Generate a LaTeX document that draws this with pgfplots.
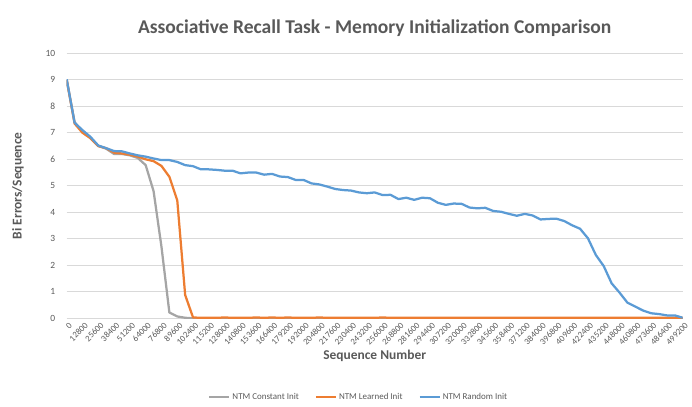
\documentclass[border=0pt]{standalone}
\usepackage{pgfplots}
\usepackage{pgfplotstable}
\pgfplotsset{compat=1.18}
\usepackage{fontspec}
\setmainfont{Carlito}
\definecolor{cgray}{HTML}{A5A5A5}
\definecolor{corange}{HTML}{ED7D31}
\definecolor{cblue}{HTML}{5B9BD5}
\definecolor{ctext}{HTML}{595959}
\definecolor{cgrid}{HTML}{D9D9D9}
\pgfplotstableread{
x gray orange blue
0 9.00 9.00 9.02
6400 7.40 7.35 7.38
12800 7.05 7.00 7.10
19200 6.80 6.80 6.85
25600 6.50 6.50 6.52
32000 6.40 6.42 6.42
38400 6.20 6.25 6.31
44800 6.20 6.22 6.30
51200 6.15 6.17 6.22
57600 6.05 6.10 6.15
64000 5.78 6.00 6.10
70400 4.80 5.93 6.03
76800 2.70 5.75 5.97
83200 0.22 5.34 5.97
89600 0.07 4.45 5.90
96000 0.02 0.88 5.78
102400 0.00 0.03 5.74
108800 0.00 0.02 5.62
115200 0.00 0.02 5.62
121600 0.00 0.02 5.60
128000 0.00 0.03 5.57
134400 0.00 0.02 5.57
140800 0.00 0.02 5.47
147200 0.00 0.02 5.50
153600 0.00 0.03 5.50
160000 0.00 0.02 5.42
166400 0.00 0.03 5.45
172800 0.00 0.02 5.35
179200 0.00 0.03 5.33
185600 0.00 0.02 5.22
192000 0.00 0.02 5.22
198400 0.00 0.02 5.09
204800 0.00 0.03 5.05
211200 0.00 0.02 4.97
217600 0.00 0.02 4.88
224000 0.00 0.02 4.84
230400 0.00 0.02 4.82
236800 0.00 0.02 4.75
243200 0.00 0.02 4.72
249600 0.00 0.02 4.75
256000 0.00 0.03 4.65
262400 0.00 0.02 4.66
268800 0.00 0.02 4.50
275200 0.00 0.02 4.55
281600 0.00 0.02 4.47
288000 0.00 0.02 4.55
294400 0.00 0.02 4.53
300800 0.00 0.02 4.36
307200 0.00 0.02 4.28
313600 0.00 0.02 4.33
320000 0.00 0.02 4.32
326400 0.00 0.02 4.18
332800 0.00 0.02 4.15
339200 0.00 0.02 4.17
345600 0.00 0.02 4.05
352000 0.00 0.02 4.02
358400 0.00 0.02 3.94
364800 0.00 0.02 3.87
371200 0.00 0.02 3.94
377600 0.00 0.02 3.88
384000 0.00 0.02 3.73
390400 0.00 0.02 3.75
396800 0.00 0.02 3.76
403200 0.00 0.02 3.67
409600 0.00 0.02 3.51
416000 0.00 0.02 3.38
422400 0.00 0.02 3.02
428800 0.00 0.02 2.39
435200 0.00 0.02 1.97
441600 0.00 0.02 1.32
448000 0.00 0.02 0.97
454400 0.00 0.02 0.59
460800 0.00 0.02 0.44
467200 0.00 0.02 0.29
473600 0.00 0.02 0.19
480000 0.00 0.02 0.16
486400 0.00 0.02 0.11
492800 0.00 0.02 0.11
499200 0.00 0.02 0.02
}\datatable
\begin{document}
\begin{tikzpicture}
\useasboundingbox (-66.7bp,-88.7bp) rectangle (625.3bp,318.3bp);
\begin{axis}[
  at={(0,0)}, anchor=south west,
  scale only axis, width=616bp, height=265bp,
  xmin=0, xmax=499200, ymin=0, ymax=10,
  axis line style={draw=none},
  major tick length=0pt,
  scaled x ticks=false, scaled y ticks=false,
  ymajorgrids, grid style={cgrid, line width=0.75bp},
  xtick={0,12800,25600,38400,51200,64000,76800,89600,102400,115200,128000,140800,153600,166400,179200,192000,204800,217600,230400,243200,256000,268800,281600,294400,307200,320000,332800,345600,358400,371200,384000,396800,409600,422400,435200,448000,460800,473600,486400,499200},
  xticklabels={0,12800,25600,38400,51200,64000,76800,89600,102400,115200,128000,140800,153600,166400,179200,192000,204800,217600,230400,243200,256000,268800,281600,294400,307200,320000,332800,345600,358400,371200,384000,396800,409600,422400,435200,448000,460800,473600,486400,499200},
  ytick={0,1,2,3,4,5,6,7,8,9,10},
  yticklabels={0,1,2,3,4,5,6,7,8,9,10},
  xticklabel style={rotate=45, anchor=east, font=\fontsize{8.8}{8.8}\selectfont, text=ctext, yshift=-7bp, xshift=2bp},
  yticklabel style={font=\fontsize{9.5}{9.5}\selectfont, text=ctext, xshift=-8bp},
  title={Associative Recall Task - Memory Initialization Comparison},
  title style={at={(axis description cs:0.5,1.107)}, anchor=center, yshift=-9pt, font=\bfseries\fontsize{19.6}{19.6}\selectfont, text=ctext},
  xlabel={Sequence Number},
  xlabel style={at={(axis description cs:0.5,-0.142)}, anchor=center, font=\bfseries\fontsize{13.5}{13.5}\selectfont, text=ctext},
  ylabel={Bi Errors/Sequence},
  ylabel style={at={(axis description cs:-0.079,0.5)}, anchor=center, font=\bfseries\fontsize{13.5}{13.5}\selectfont, text=ctext},
  legend style={at={(axis description cs:0.474,-0.297)}, anchor=center, draw=none, fill=none,
    legend columns=3, font=\fontsize{9}{9}\selectfont, text=ctext,
    /tikz/every even column/.append style={column sep=14bp}},
  legend cell align=left,
  legend image code/.code={\draw[#1] (0bp,0bp) -- (20bp,0bp);},
  every axis plot/.append style={line width=2.25bp, line join=round, mark=none},
]
\addplot[cgray] table[x=x, y=gray] {\datatable};
\addplot[corange] table[x=x, y=orange] {\datatable};
\addplot[cblue] table[x=x, y=blue] {\datatable};
\legend{NTM Constant Init, NTM Learned Init, NTM Random Init}
\end{axis}
\end{tikzpicture}
\end{document}
